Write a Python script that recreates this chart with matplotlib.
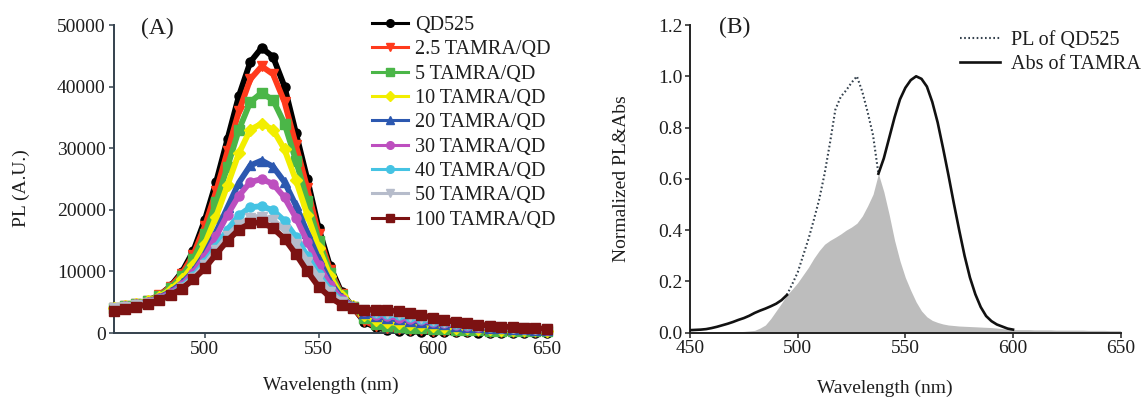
import numpy as np
import matplotlib
matplotlib.use('Agg')
import matplotlib.pyplot as plt
from matplotlib.lines import Line2D

plt.rcParams['font.family'] = ['Liberation Serif', 'DejaVu Serif']

# ---------------- panel A data (PL, A.U.) ----------------
wl_a = np.arange(460, 651, 5)

qd525 = [4000, 4300, 4700, 5200, 6100, 7600, 9900, 13300, 18300, 24500, 31500, 38500, 44000, 46300,
         44800, 40000, 32500, 25000, 17000, 10800, 6600, 4200, 1800, 900, 500, 350, 250, 200, 150,
         120, 100, 90, 80, 70, 60, 60, 50, 50, 50]
t2_5 = [4050, 4350, 4750, 5250, 6100, 7500, 9600, 12700, 17300, 23000, 29500, 36000, 41200, 43300,
        42000, 37500, 30500, 23500, 16000, 10200, 6300, 4200, 2000, 1100, 750, 600, 500, 420, 380,
        330, 300, 270, 250, 230, 210, 200, 190, 180, 170]
t5 = [4100, 4400, 4750, 5250, 6000, 7300, 9200, 12000, 16000, 21200, 27000, 33000, 37500, 39000,
      37800, 34000, 28000, 21500, 15000, 9800, 6200, 4300, 2400, 1500, 1100, 950, 850, 750, 650,
      580, 520, 460, 420, 380, 340, 310, 290, 270, 250]
t10 = [4100, 4400, 4750, 5200, 5900, 7000, 8700, 11000, 14400, 18900, 24000, 29200, 33000, 34000,
       33000, 29800, 24800, 19200, 13800, 9200, 6000, 4400, 2900, 2100, 1800, 1600, 1450, 1300, 1150,
       1000, 880, 780, 700, 630, 560, 500, 460, 420, 400]
t20 = [4100, 4350, 4700, 5100, 5750, 6700, 8100, 10000, 12800, 16400, 20400, 24400, 27200, 28000,
       27000, 24500, 20700, 16300, 12000, 8300, 5700, 4400, 3300, 2700, 2400, 2200, 2000, 1800, 1600,
       1400, 1200, 1050, 930, 830, 740, 670, 610, 560, 520]
t30 = [4100, 4350, 4650, 5050, 5650, 6500, 7800, 9800, 12400, 15700, 19200, 22300, 24500, 25000,
       24200, 22000, 18700, 14800, 11000, 7800, 5500, 4300, 3500, 3000, 2700, 2500, 2300, 2050, 1800,
       1550, 1350, 1180, 1040, 920, 820, 740, 670, 610, 560]
t40 = [4050, 4300, 4600, 4950, 5500, 6250, 7500, 9200, 11500, 14000, 16800, 19100, 20400, 20600,
       19900, 18200, 15600, 12500, 9500, 7000, 5200, 4200, 3700, 3300, 3050, 2850, 2600, 2300, 2000,
       1750, 1500, 1300, 1130, 1000, 890, 800, 720, 660, 600]
t50 = [4000, 4250, 4550, 4900, 5400, 6100, 7300, 8900, 11000, 13400, 15700, 17600, 18700, 18900,
       18300, 16700, 14400, 11600, 8900, 6600, 5000, 4100, 3700, 3450, 3250, 3050, 2800, 2450, 2150,
       1850, 1600, 1380, 1200, 1060, 940, 840, 760, 690, 630]
t100 = [3600, 3850, 4200, 4700, 5300, 6200, 7200, 8700, 10500, 12800, 15000, 16800, 17800, 18000,
        17000, 15300, 12800, 10000, 7500, 5800, 4600, 4000, 3800, 3750, 3700, 3550, 3300, 2900, 2500,
        2100, 1800, 1550, 1350, 1200, 1050, 950, 850, 750, 700]

series_a = [qd525, t2_5, t5, t10, t20, t30, t40, t50, t100]
labels_a = ['QD525', '2.5 TAMRA/QD', '5 TAMRA/QD', '10 TAMRA/QD', '20 TAMRA/QD',
            '30 TAMRA/QD', '40 TAMRA/QD', '50 TAMRA/QD', '100 TAMRA/QD']
colors_a = ['#000000', '#ff3a1c', '#4bb648', '#f2ee00', '#2c58b0',
            '#bd4fbf', '#45c3e3', '#b6bccb', '#7c1212']
markers_a = ['o', 'v', 's', 'D', '^', 'o', 'o', 'v', 's']

# ---------------- panel B data (normalized) ----------------
wl_b = np.arange(450, 650.1, 2.5)

pl_b = [0.000, 0.000, 0.001, 0.001, 0.002, 0.002, 0.003, 0.003, 0.004, 0.004,
        0.005, 0.007, 0.009, 0.018, 0.030, 0.055, 0.085, 0.115, 0.147, 0.190,
        0.235, 0.300, 0.365, 0.440, 0.520, 0.620, 0.740, 0.870, 0.920, 0.945,
        0.975, 1.000, 0.940, 0.860, 0.770, 0.620, 0.550, 0.460, 0.360, 0.280,
        0.215, 0.165, 0.120, 0.085, 0.062, 0.048, 0.040, 0.034, 0.030, 0.028,
        0.026, 0.025, 0.024, 0.023, 0.022, 0.021, 0.020, 0.018, 0.016, 0.014,
        0.012, 0.012, 0.012, 0.012, 0.011, 0.011, 0.011, 0.011, 0.010, 0.010,
        0.010, 0.010, 0.010, 0.010, 0.009, 0.009, 0.009, 0.009, 0.008, 0.008, 0.008]
abs_b = [0.010, 0.011, 0.012, 0.014, 0.018, 0.023, 0.029, 0.035, 0.042, 0.050,
         0.057, 0.066, 0.077, 0.086, 0.094, 0.103, 0.113, 0.127, 0.147, 0.170,
         0.195, 0.225, 0.255, 0.290, 0.320, 0.345, 0.360, 0.372, 0.385, 0.400,
         0.412, 0.427, 0.455, 0.495, 0.540, 0.620, 0.680, 0.760, 0.840, 0.910,
         0.955, 0.985, 1.000, 0.990, 0.960, 0.900, 0.820, 0.720, 0.615, 0.505,
         0.400, 0.300, 0.215, 0.150, 0.100, 0.065, 0.045, 0.032, 0.024, 0.016,
         0.012] + [np.nan] * 20

W, H = 1145, 398
fig = plt.figure(figsize=(W / 100, H / 100), dpi=100)
txt = '#1e1e1e'
fs = 14

def px_box(x0, x1, ytop, ybot):
    return [x0 / W, (H - ybot) / H, (x1 - x0) / W, (ybot - ytop) / H]

def style(ax, spine):
    for s in ['top', 'right']:
        ax.spines[s].set_visible(False)
    for s in ['left', 'bottom']:
        ax.spines[s].set_color(spine)
        ax.spines[s].set_linewidth(1.4)
    ax.tick_params(direction='out', length=3.5, width=1.1, color=spine,
                   labelsize=fs, labelcolor=txt, pad=2)

# ---- A ----
ax = fig.add_axes(px_box(113.5, 546.7, 25, 333))
proxies = []
for i, (y, lab, c, m) in enumerate(zip(series_a, labels_a, colors_a, markers_a)):
    ax.plot(wl_a, y, color=c, lw=4.2, marker=m, ms=6.5, mec=c, mfc=c,
            zorder=2 + i, clip_on=False, solid_joinstyle='round')
    proxies.append(Line2D([], [], color=c, lw=2.2, marker=m, ms=5.5, mec=c, mfc=c))
ax.set_xlim(460, 650)
ax.set_ylim(0, 50000)
ax.set_xticks([500, 550, 600, 650])
ax.set_yticks(range(0, 50001, 10000))
style(ax, '#34414d')
ax.legend(proxies, labels_a, loc='upper left', bbox_to_anchor=(372 / W, (H - 16) / H),
          bbox_transform=fig.transFigure, frameon=False, fontsize=14.5,
          handlelength=1.8, handletextpad=0.35, labelspacing=0.26,
          borderpad=0, borderaxespad=0, labelcolor=txt)
fig.text(157 / W, (H - 28) / H, '(A)', fontsize=17, color=txt, ha='center', va='center')
fig.text(21 / W, (H - 188) / H, 'PL (A.U.)', fontsize=fs, color=txt,
         rotation=90, ha='center', va='center')
fig.text(331 / W, (H - 385) / H, 'Wavelength (nm)', fontsize=fs, color=txt,
         ha='center', va='center')

# ---- B ----
bx = fig.add_axes(px_box(690, 1120.7, 25, 332.7))
pl = np.array(pl_b)
ab = np.array(abs_b)
with np.errstate(invalid='ignore'):
    pl_top = np.where(pl >= ab, pl, np.nan)
    ab_top = np.where(ab >= pl, ab, np.nan)
bx.fill_between(wl_b, 0, np.fmin(pl, ab), color='#bdbdbd', lw=0, zorder=2)
dot = (0, (0.8, 1.2))
bx.plot(wl_b, pl_top, color='#34414d', lw=1.5, ls=dot, zorder=3)
bx.plot(wl_b, ab_top, color='#111111', lw=1.9, zorder=3)
h = [Line2D([], [], color='#34414d', lw=1.5, ls=dot),
     Line2D([], [], color='#111111', lw=1.9)]
bx.legend(h, ['PL of QD525', 'Abs of TAMRA'], loc='upper left',
          bbox_to_anchor=(960 / W, (H - 31) / H),
          bbox_transform=fig.transFigure, frameon=False, fontsize=14.5,
          handlelength=2.0, handletextpad=0.55, labelspacing=0.22,
          borderpad=0, borderaxespad=0, labelcolor=txt)
bx.set_xlim(450, 650)
bx.set_ylim(0, 1.2)
bx.set_xticks([450, 500, 550, 600, 650])
bx.set_yticks(np.arange(0, 1.21, 0.2))
bx.set_yticklabels(['%.1f' % v for v in np.arange(0, 1.21, 0.2)])
style(bx, '#222222')
fig.text(735 / W, (H - 27) / H, '(B)', fontsize=17, color=txt, ha='center', va='center')
fig.text(622 / W, (H - 179) / H, 'Normalized PL&Abs', fontsize=fs, color=txt,
         rotation=90, ha='center', va='center')
fig.text(885 / W, (H - 388) / H, 'Wavelength (nm)', fontsize=fs, color=txt,
         ha='center', va='center')

fig.savefig('out.png', dpi=100, facecolor='white')
